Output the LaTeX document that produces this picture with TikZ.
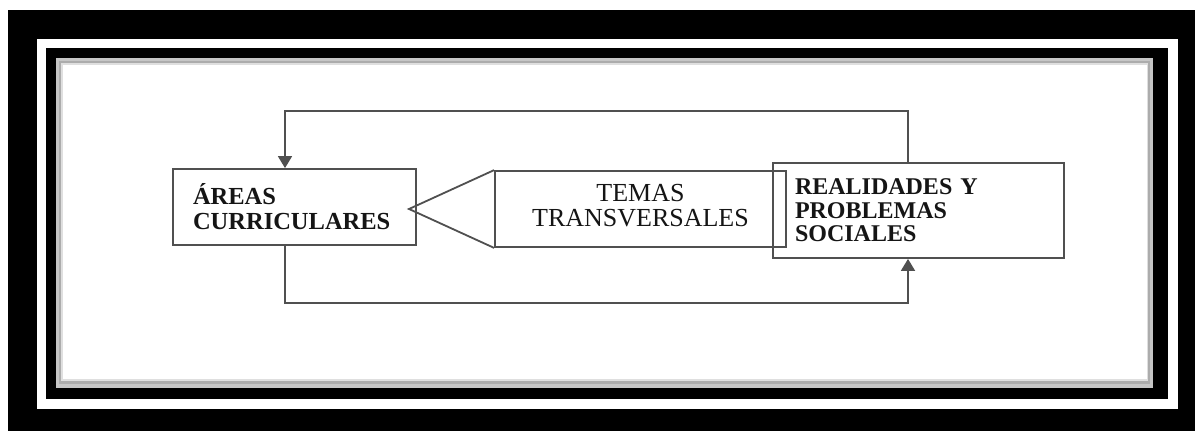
\documentclass[tikz,border=0pt]{standalone}
\usepackage{fontspec}
\setmainfont{Liberation Serif}
\usetikzlibrary{arrows.meta}
\definecolor{lin}{HTML}{505050}
\definecolor{txt}{HTML}{151515}
\tikzset{
  boxnode/.style={draw=lin, line width=1.8pt, rectangle, inner sep=0pt, text=txt},
  arr/.style={draw=lin, line width=1.8pt, -{Triangle[length=12pt,width=14pt]}},
  conn/.style={draw=lin, line width=1.8pt},
}
\begin{document}
\begin{tikzpicture}[x=1pt,y=-1pt]
\useasboundingbox (0,0) rectangle (1195,431);
% frames
\fill[white] (0,0) rectangle (1195,431);
\fill[black] (8,10) rectangle (1195,431);
\fill[white] (37,39) rectangle (1178,409);
\fill[black] (46,48) rectangle (1168,399);
\fill[gray!45] (56,58) rectangle (1153,388);
\fill[gray!65] (59,61) rectangle (1150,384);
\fill[gray!25] (61,63) rectangle (1148,381);
\fill[white] (63,65) rectangle (1147,379);
% boxes
\node[boxnode, minimum width=243pt, minimum height=76pt, text width=203pt, align=left,
  font=\fontsize{24.5}{25}\selectfont\bfseries] (areas) at (294.5,207) {ÁREAS\\CURRICULARES};
\node[boxnode, minimum width=291pt, minimum height=95pt, text width=247pt, align=left,
  font=\fontsize{24}{23.5}\selectfont\bfseries] (realidades) at (918.5,210.5) {REALIDADES Y\\PROBLEMAS\\SOCIALES};
\node[boxnode, minimum width=291pt, minimum height=76pt, align=center,
  font=\fontsize{26}{25}\selectfont] (temas) at (640.5,209) {\raisebox{2pt}{\begin{tabular}{@{}c@{}}TEMAS\\TRANSVERSALES\end{tabular}}};
% triangle pointer
\coordinate (tip) at (409,209);
\draw[conn, line join=miter] (temas.north west) -- (tip) -- (temas.south west);
% connectors
\coordinate (topR) at (908,111);
\coordinate (topL) at (285,111);
\coordinate (botL) at (285,303);
\coordinate (botR) at (908,303);
\draw[arr] (topR |- realidades.north) -- (topR) -- (topL) -- (topL |- areas.north);
\draw[arr] (botL |- areas.south) -- (botL) -- (botR) -- (botR |- realidades.south);
\end{tikzpicture}
\end{document}
